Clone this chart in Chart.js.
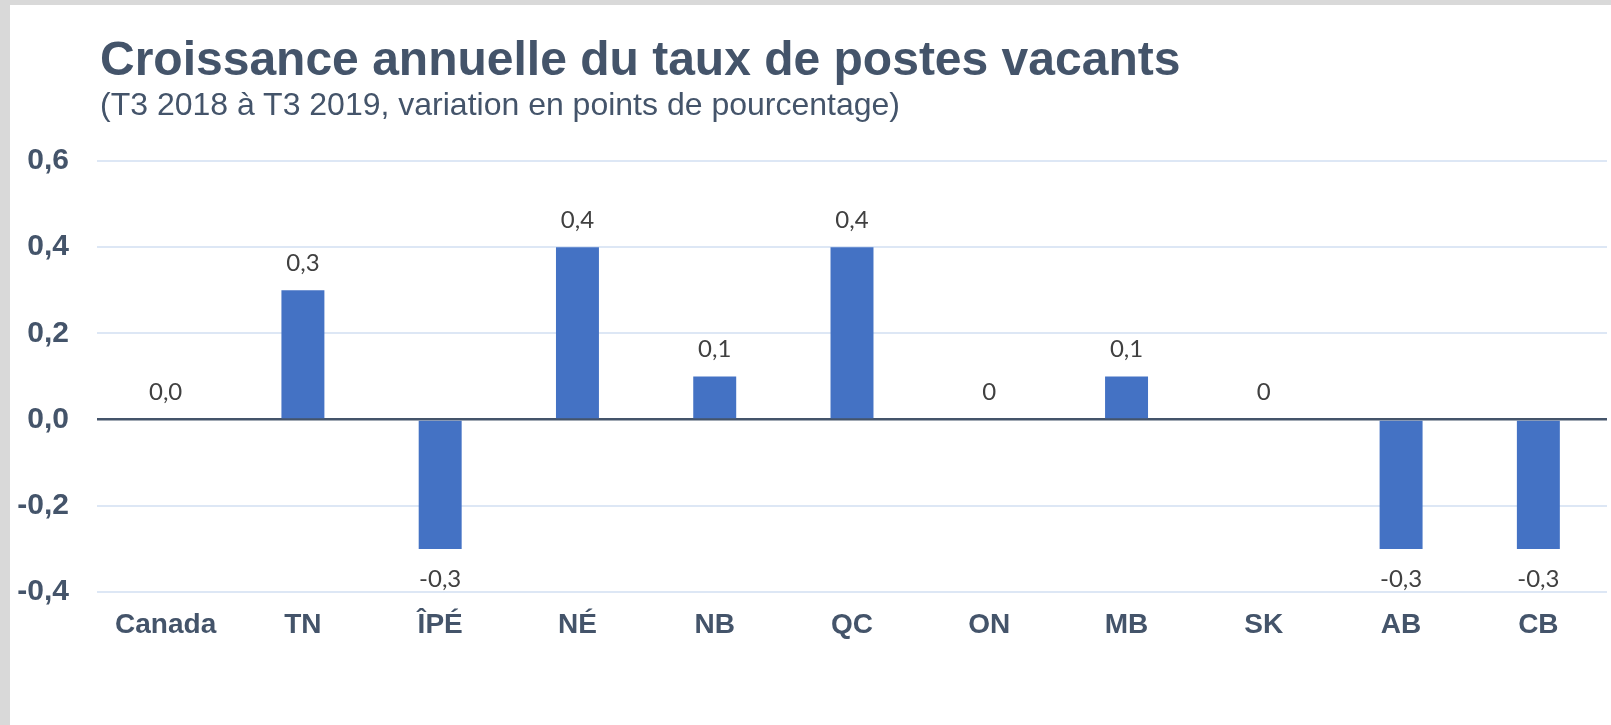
<!DOCTYPE html>
<html>
<head>
<meta charset="utf-8">
<script src="https://cdn.jsdelivr.net/npm/chart.js@4"></script>
<style>
  html, body { margin: 0; padding: 0; background: #d9d9d9; width: 1611px; height: 725px; overflow: hidden; }
  #wrap { position: absolute; left: 10px; top: 5px; width: 1601px; height: 720px; background: #ffffff; }
  #title { position: absolute; left: 90px; top: 30px; font: bold 48px "Liberation Sans", Arial, sans-serif; line-height: 48px; color: #44546a; white-space: nowrap; z-index: 2; }
  #sub { position: absolute; left: 90px; top: 83px; font: 32px "Liberation Sans", Arial, sans-serif; line-height: 32px; color: #44546a; white-space: nowrap; z-index: 2; }
  #cbox { position: absolute; left: 0; top: 0; width: 1601px; height: 720px; }
</style>
</head>
<body>
<div id="wrap">
  <div id="title">Croissance annuelle du taux de postes vacants</div>
  <div id="sub">(T3 2018 à T3 2019, variation en points de pourcentage)</div>
  <div id="cbox"><canvas id="c"></canvas></div>
</div>
<script>
const categories = ["Canada", "TN", "ÎPÉ", "NÉ", "NB", "QC", "ON", "MB", "SK", "AB", "CB"];
const values = [0.0, 0.3, -0.3, 0.4, 0.1, 0.4, 0, 0.1, 0, -0.3, -0.3];
const dataLabels = ["0,0", "0,3", "-0,3", "0,4", "0,1", "0,4", "0", "0,1", "0", "-0,3", "-0,3"];
const yTickLabels = { "0.6": "0,6", "0.4": "0,4", "0.2": "0,2", "0": "0,0", "-0.2": "-0,2", "-0.4": "-0,4" };

const valueLabelPlugin = {
  id: 'valueLabels',
  afterDatasetsDraw(chart) {
    const ctx = chart.ctx;
    const meta = chart.getDatasetMeta(0);
    ctx.save();
    ctx.font = '24px Lato, "Open Sans", sans-serif';
    ctx.fillStyle = '#404040';
    ctx.textAlign = 'center';
    ctx.textBaseline = 'middle';
    meta.data.forEach((el, i) => {
      const v = values[i];
      const y = v < 0 ? el.y + 30 : el.y - 27;
      ctx.fillText(dataLabels[i], el.x, y);
    });
    ctx.restore();
  }
};

new Chart(document.getElementById('c'), {
  type: 'bar',
  data: {
    labels: categories,
    datasets: [{
      data: values,
      backgroundColor: '#4472c4',
      borderWidth: 0,
      categoryPercentage: 1,
      barPercentage: 0.313
    }]
  },
  plugins: [valueLabelPlugin],
  options: {
    responsive: true,
    maintainAspectRatio: false,
    animation: false,
    layout: { padding: { top: 156, right: 4, bottom: 53, left: 0 } },
    plugins: { legend: { display: false }, title: { display: false }, tooltip: { enabled: false } },
    scales: {
      x: {
        grid: { display: false, drawTicks: false },
        border: { display: false },
        ticks: {
          color: '#44546a',
          font: { family: '"Liberation Sans", Arial, sans-serif', size: 28, weight: 'bold' },
          padding: 16,
          maxRotation: 0,
          autoSkip: false
        },
        afterFit(scale) { scale.height = 80; }
      },
      y: {
        min: -0.4,
        max: 0.6,
        grid: {
          drawTicks: false,
          color: (c) => (c.tick && Math.abs(c.tick.value) < 1e-9) ? '#44546a' : '#dde7f5',
          lineWidth: (c) => (c.tick && Math.abs(c.tick.value) < 1e-9) ? 2.5 : 2
        },
        border: { display: false },
        ticks: {
          stepSize: 0.2,
          color: '#44546a',
          font: { family: '"Liberation Sans", Arial, sans-serif', size: 30, weight: 'bold' },
          padding: 28,
          callback: (v) => {
            const k = String(Math.round(v * 10) / 10);
            return yTickLabels[k] !== undefined ? yTickLabels[k] : k;
          }
        },
        afterFit(scale) { scale.width = 87; }
      }
    }
  }
});
</script>
</body>
</html>
